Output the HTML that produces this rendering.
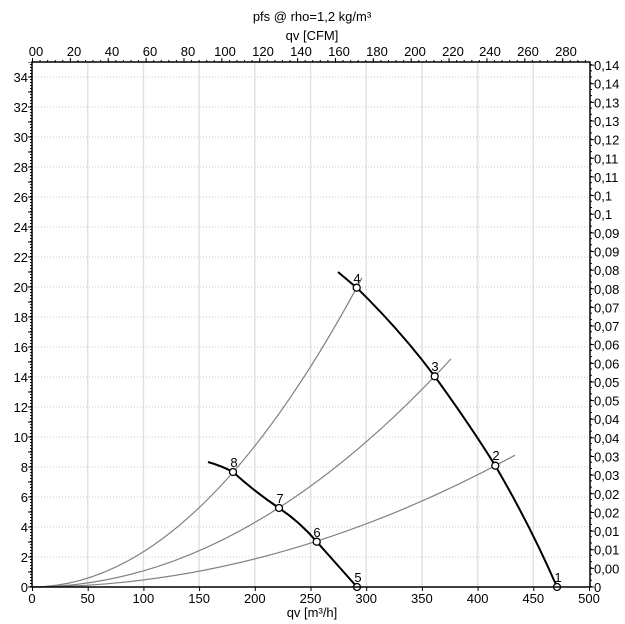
<!DOCTYPE html>
<html><head><meta charset="utf-8"><style>
html,body{margin:0;padding:0;background:#fff;}
svg{display:block;font-family:"Liberation Sans",Arial,sans-serif;}
</style></head><body>
<svg width="625" height="624" viewBox="0 0 625 624" xmlns="http://www.w3.org/2000/svg">
<rect width="625" height="624" fill="#fff"/>
<text x="312" y="21" font-size="13" text-anchor="middle">pfs @ rho=1,2 kg/m³</text>
<text x="312" y="40" font-size="13" text-anchor="middle">qv [CFM]</text>
<g stroke="#e2e2e2" stroke-width="1.5">
<line x1="87.7" y1="62" x2="87.7" y2="587"/><line x1="143.4" y1="62" x2="143.4" y2="587"/>
<line x1="199.1" y1="62" x2="199.1" y2="587"/><line x1="254.8" y1="62" x2="254.8" y2="587"/>
<line x1="310.5" y1="62" x2="310.5" y2="587"/><line x1="366.2" y1="62" x2="366.2" y2="587"/>
<line x1="421.9" y1="62" x2="421.9" y2="587"/><line x1="477.6" y1="62" x2="477.6" y2="587"/>
<line x1="533.3" y1="62" x2="533.3" y2="587"/>
</g>
<g stroke="#c8c8c8" stroke-width="1" stroke-dasharray="1,2">
<line x1="32" y1="557" x2="590" y2="557"/><line x1="32" y1="527" x2="590" y2="527"/>
<line x1="32" y1="497" x2="590" y2="497"/><line x1="32" y1="467" x2="590" y2="467"/>
<line x1="32" y1="437" x2="590" y2="437"/><line x1="32" y1="407" x2="590" y2="407"/>
<line x1="32" y1="377" x2="590" y2="377"/><line x1="32" y1="347" x2="590" y2="347"/>
<line x1="32" y1="317" x2="590" y2="317"/><line x1="32" y1="287" x2="590" y2="287"/>
<line x1="32" y1="257" x2="590" y2="257"/><line x1="32" y1="227" x2="590" y2="227"/>
<line x1="32" y1="197" x2="590" y2="197"/><line x1="32" y1="167" x2="590" y2="167"/>
<line x1="32" y1="137" x2="590" y2="137"/><line x1="32" y1="107" x2="590" y2="107"/>
<line x1="32" y1="77" x2="590" y2="77"/>
</g>
<g font-size="13" text-anchor="end">
<text x="28" y="592">0</text><text x="28" y="562">2</text><text x="28" y="532">4</text>
<text x="28" y="502">6</text><text x="28" y="472">8</text><text x="28" y="442">10</text>
<text x="28" y="412">12</text><text x="28" y="382">14</text><text x="28" y="352">16</text>
<text x="28" y="322">18</text><text x="28" y="292">20</text><text x="28" y="262">22</text>
<text x="28" y="232">24</text><text x="28" y="202">26</text><text x="28" y="172">28</text>
<text x="28" y="142">30</text><text x="28" y="112">32</text><text x="28" y="82">34</text>
</g>
<g font-size="13" text-anchor="middle">
<text x="32" y="603">0</text><text x="87.7" y="603">50</text><text x="143.4" y="603">100</text>
<text x="199.1" y="603">150</text><text x="254.8" y="603">200</text><text x="310.5" y="603">250</text>
<text x="366.2" y="603">300</text><text x="421.9" y="603">350</text><text x="477.6" y="603">400</text>
<text x="533.3" y="603">450</text><text x="589" y="603">500</text>
</g>
<g font-size="13" text-anchor="middle">
<text x="36" y="56">00</text><text x="74" y="56">20</text><text x="112" y="56">40</text>
<text x="150" y="56">60</text><text x="188" y="56">80</text><text x="225" y="56">100</text>
<text x="263" y="56">120</text><text x="301" y="56">140</text><text x="339" y="56">160</text>
<text x="377" y="56">180</text><text x="415" y="56">200</text><text x="453" y="56">220</text>
<text x="490" y="56">240</text><text x="528" y="56">260</text><text x="566" y="56">280</text>
</g>
<g font-size="13">
<text x="594" y="592">0</text><text x="594" y="573.4">0,00</text><text x="594" y="554.7">0,01</text>
<text x="594" y="536.1">0,01</text><text x="594" y="517.4">0,02</text><text x="594" y="498.8">0,02</text>
<text x="594" y="480.2">0,03</text><text x="594" y="461.5">0,03</text><text x="594" y="442.9">0,04</text>
<text x="594" y="424.2">0,04</text><text x="594" y="405.6">0,05</text><text x="594" y="387">0,05</text>
<text x="594" y="368.3">0,06</text><text x="594" y="349.7">0,06</text><text x="594" y="331">0,07</text>
<text x="594" y="312.4">0,07</text><text x="594" y="293.8">0,08</text><text x="594" y="275.1">0,08</text>
<text x="594" y="256.5">0,09</text><text x="594" y="237.8">0,09</text><text x="594" y="219.2">0,1</text>
<text x="594" y="200.6">0,1</text><text x="594" y="181.9">0,11</text><text x="594" y="163.3">0,11</text>
<text x="594" y="144.6">0,12</text><text x="594" y="126">0,13</text><text x="594" y="107.4">0,13</text>
<text x="594" y="88.7">0,14</text><text x="594" y="70.1">0,14</text>
</g>
<g fill="none" stroke="#808080" stroke-width="1.2">
<path d="M32,587 Q197,587 362,277.8"/>
<path d="M32,587 Q241.5,587 451,358.9"/>
<path d="M32,587 Q273.5,587 515,455.2"/>
</g>
<g fill="none" stroke="#000" stroke-width="2">
<path d="M338,272 L356.7,287.7 Q400,330 434.7,376.3 Q470,425 495.3,465.7 Q530,525 557,587"/>
<path d="M208,462 Q222,466 233,472 Q255,492 279,508 Q300,522 316.7,541.7 L357,587"/>
</g>
<g fill="#fff" stroke="#000" stroke-width="1.3">
<circle cx="557" cy="587" r="3.5"/><circle cx="495.3" cy="465.7" r="3.5"/>
<circle cx="434.7" cy="376.3" r="3.5"/><circle cx="356.7" cy="287.7" r="3.5"/>
<circle cx="357" cy="587" r="3.5"/><circle cx="316.7" cy="541.7" r="3.5"/>
<circle cx="279" cy="508" r="3.5"/><circle cx="233" cy="472" r="3.5"/>
</g>
<g font-size="13" text-anchor="middle">
<text x="558" y="582">1</text><text x="496" y="460">2</text><text x="435" y="371">3</text>
<text x="357" y="283">4</text><text x="358" y="582">5</text><text x="317" y="537">6</text>
<text x="280" y="503">7</text><text x="234" y="467">8</text>
</g>
<rect x="32" y="62" width="558" height="525" fill="none" stroke="#000" stroke-width="1.5"/>
<g stroke="#000" stroke-width="1" fill="none">
<line x1="31" y1="587" x2="31" y2="62" stroke-width="2" stroke-dasharray="1,2"/>
<line x1="30" y1="587.5" x2="30" y2="62" stroke-width="4" stroke-dasharray="1,14"/>
<line x1="591" y1="587" x2="591" y2="62" stroke-width="2" stroke-dasharray="1,5.213"/>
<line x1="592" y1="587.5" x2="592" y2="62" stroke-width="4" stroke-dasharray="1,17.64"/>
<line x1="32" y1="61" x2="590" y2="61" stroke-width="2" stroke-dasharray="1,6.574"/>
<line x1="32" y1="60" x2="590" y2="60" stroke-width="4" stroke-dasharray="1,36.87"/>
<line x1="32" y1="589" x2="590" y2="589" stroke-width="4" stroke-dasharray="1,54.7"/>
</g>
<text x="312" y="617" font-size="13" text-anchor="middle">qv [m³/h]</text>
</svg>
</body></html>
